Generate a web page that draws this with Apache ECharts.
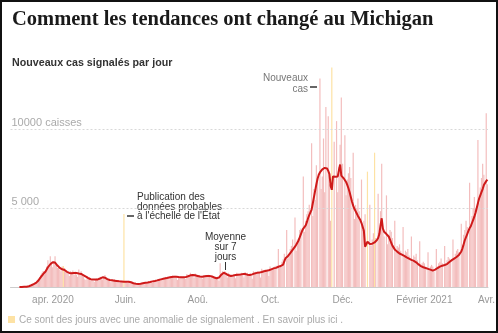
<!DOCTYPE html>
<html><head><meta charset="utf-8">
<script src="https://cdn.jsdelivr.net/npm/echarts@6/dist/echarts.min.js"></script>
<style>
html,body{margin:0;padding:0;background:#fff;}
#chart{position:absolute;left:0;top:0;width:498px;height:333px;}
#frame{position:absolute;left:0;top:0;width:498px;height:333px;box-sizing:border-box;border:2px solid #111;pointer-events:none;}
</style></head>
<body>
<div id="chart"></div>
<div id="frame"></div>
<script>
// axis range: categories start on this day; data starts on dataStart
const axisStart = '2020-03-01';
const dataStart = '2020-03-08';

// daily new cases, one value per day from 2020-03-08
const dailyCases = [
0,0,2,10,12,20,35,
50,60,110,130,200,230,290,
300,420,530,640,780,900,1010,
800,1050,1300,1700,1400,1950,1450,
1250,1650,1950,1450,1200,1350,1100,
1000,1300,1330,1200,980,900,850,
700,1000,950,1050,760,980,780,
650,1100,860,1000,700,640,490,
450,700,560,620,400,440,380,
320,500,540,470,600,650,640,
480,700,760,500,450,420,390,
300,480,430,500,380,350,320,
280,400,380,360,4620,340,300,
250,380,330,310,260,220,180,
120,230,180,210,230,260,270,
180,290,300,320,350,340,360,
280,410,390,450,470,480,500,
380,560,590,540,640,600,620,
480,700,650,720,680,710,620,
450,700,610,680,640,660,590,
500,820,720,780,900,750,800,
580,850,720,760,740,700,650,
520,730,700,760,720,780,700,
550,720,640,660,580,550,500,
400,1500,900,1000,860,1000,900,
600,900,800,750,720,700,690,
560,900,820,850,800,900,850,
600,950,700,900,820,850,760,
520,1000,900,960,880,1000,980,
600,1150,950,1050,1100,1030,1000,
700,1300,1100,1200,1250,1300,1350,
0,2400,1200,1400,1600,1750,2100,
0,3600,1800,2000,2400,2600,3000,
0,4400,2300,3000,3100,3600,3700,
0,7000,3500,4200,4600,4800,5200,
0,9100,4500,6200,5500,7700,6800,
0,13200,6200,7000,9400,6000,11400,
0,10800,6500,4200,13900,0,9200,
0,10500,6000,7600,9000,12000,7800,
0,9600,5800,6800,7200,7600,6900,
0,8500,4300,5200,5000,5600,4800,
0,6800,3600,4200,4600,0,7300,
0,5200,2600,3000,3400,8500,3100,
0,5900,3300,4800,7800,3600,3200,
0,5800,2700,3300,3600,3500,3100,
0,4200,2200,2600,2500,2700,2300,
0,3800,1900,2300,2200,2400,2000,
0,3200,1600,2000,1900,2100,1700,
0,2900,1300,1500,1600,1500,1200,
0,2200,1100,1300,1400,1300,1000,
0,2400,1300,1500,1600,1800,1500,
0,2600,1500,1700,1900,1800,1700,
0,3000,1800,2100,2300,2400,2200,
0,4000,2700,3300,3600,4200,3800,
0,6600,3700,4500,5000,5700,5000,
0,9300,5300,6300,6900,7800,7100,
0,11000,6500
];

// 7-day average, one value per day from 2020-03-08
const avg7 = [
0,0,0,5,10,15,20,
30,50,80,110,150,180,220,
260,330,410,500,620,720,820,
900,980,1080,1250,1360,1440,1510,
1570,1600,1550,1460,1360,1280,1210,
1150,1120,1100,1080,1020,960,920,
890,870,865,870,880,885,880,
870,850,840,830,790,740,690,
650,600,560,520,490,480,475,
470,470,475,480,500,540,580,
610,620,590,540,500,460,440,
430,420,410,400,390,380,370,
360,355,350,345,340,340,340,
338,330,320,300,270,240,215,
200,190,185,195,210,225,240,
255,265,275,290,305,320,340,
355,370,385,400,420,440,460,
480,500,520,540,555,565,580,
600,620,635,645,650,655,650,
640,630,620,615,610,610,612,
625,650,680,710,740,760,765,
755,740,720,700,680,660,650,
655,665,680,695,700,705,700,
690,670,640,600,570,555,550,
600,680,780,860,900,880,830,
780,740,710,700,710,730,750,
765,775,780,785,790,800,815,
825,820,800,780,765,760,770,
800,830,860,880,895,900,910,
930,950,980,1000,1020,1030,1040,
1060,1090,1120,1150,1180,1190,1210,
1240,1280,1320,1330,1350,1420,1620,
1820,1900,1950,2000,2150,2250,2350,
2450,2550,2680,2800,2950,3150,3350,
3550,3700,3800,3900,4100,4350,4550,
4650,4900,5300,5700,6100,6500,6850,
7100,7250,7350,7450,7500,7540,7570,
7500,7350,7150,6400,6150,7000,7050,
6980,6940,7000,7400,7750,7050,6950,
6880,6800,6650,6460,6250,6000,5700,
5400,5150,4950,4800,4650,4500,4380,
4240,4050,3800,3550,2550,2700,2870,
2800,2720,2700,2740,2770,2820,2900,
2970,3100,3350,3900,4350,3700,3500,
3420,3350,3250,3180,3000,2800,2620,
2500,2380,2300,2240,2180,2120,2080,
2050,2010,1970,1930,1880,1840,1800,
1760,1720,1690,1650,1600,1560,1500,
1430,1370,1320,1280,1250,1220,1200,
1170,1150,1120,1100,1070,1040,1050,
1100,1150,1200,1250,1290,1320,1350,
1370,1390,1420,1450,1510,1580,1640,
1700,1760,1800,1850,1900,1960,2030,
2100,2250,2450,2700,2970,3150,3350,
3550,3720,3850,4050,4250,4450,4700,
5000,5300,5600,5800,6000,6200,6450,
6550,6700,6800
];

// days with a reporting anomaly (drawn in yellow)
const anomalyDays = ['2020-04-14','2020-06-04','2020-11-26','2020-12-26','2021-01-01'];

// x-axis ticks
const tickDates = ['2020-04-01','2020-06-01','2020-08-01','2020-10-01','2020-12-01','2021-02-01','2021-04-01'];
const tickLabels = ['apr. 2020','Juin.','Aoû.','Oct.','Déc.','Février 2021','Avr.'];

// y-axis gridlines
const yTickValues = [5000, 10000];
const yTickLabels = ['5 000', '10000 caisses'];

const DAY = 86400000;
const isoDay = t => new Date(t).toISOString().slice(0, 10);
const t0 = Date.parse(axisStart + 'T00:00:00Z');
const offset = Math.round((Date.parse(dataStart + 'T00:00:00Z') - t0) / DAY);
const nCats = offset + dailyCases.length;
const categories = [];
for (let i = 0; i < nCats; i++) categories.push(isoDay(t0 + i * DAY));

const PINK = '#f3bdbd';
const YELLOW = '#fde2a4';

const barData = categories.map((d, i) => {
  const k = i - offset;
  if (k < 0) return null;
  const v = dailyCases[k];
  if (anomalyDays.includes(d)) return { value: v, itemStyle: { color: YELLOW } };
  return v;
});
const lineData = categories.map((d, i) => {
  const k = i - offset;
  return k < 0 ? null : avg7[k];
});

const isTick = (idx, val) => tickDates.includes(val);
const SANS = '"Liberation Sans", Arial, sans-serif';
const fmtTick = v => {
  const lab = tickLabels[tickDates.indexOf(v)] || '';
  return lab.length > 10 ? '{w|' + lab + '}' : lab;
};

const chart = echarts.init(document.getElementById('chart'), null, { renderer: 'canvas' });
chart.setOption({
  animation: false,
  backgroundColor: '#fff',
  title: [
    { text: 'Comment les tendances ont changé au Michigan', left: 7, top: 4,
      textStyle: { fontFamily: '"Liberation Serif", "DejaVu Serif", serif', fontWeight: 'bold', fontSize: 20.5, color: '#1a1a1a' } },
    { text: 'Nouveaux cas signalés par jour', left: 7, top: 53,
      textStyle: { fontFamily: SANS, fontWeight: 'bold', fontSize: 10.7, color: '#333' } }
  ],
  grid: { left: 10.5, right: 8.5, top: 50, bottom: 46, containLabel: false },
  xAxis: {
    type: 'category', data: categories, boundaryGap: true,
    axisLine: { lineStyle: { color: '#ccc', width: 1 } },
    axisTick: { alignWithLabel: true, interval: isTick, length: 5, lineStyle: { color: '#bbb' } },
    axisLabel: { interval: isTick, formatter: fmtTick,
      color: '#999', fontSize: 10, fontFamily: SANS, margin: 8, padding: [0, 0, 0, 10],
      rich: { w: { color: '#999', fontSize: 10, fontFamily: SANS, padding: [0, 0, 0, 16] } } },
    splitLine: { show: false }
  },
  yAxis: { type: 'value', min: 0, max: 15000, show: false },
  series: [
    {
      type: 'bar', data: barData, barCategoryGap: '0%', itemStyle: { color: PINK }, z: 2, silent: true,
      markLine: {
        silent: true, symbol: 'none', animation: false,
        lineStyle: { color: '#d8d8d8', type: [2, 2], width: 1 },
        label: { position: 'insideStartTop', formatter: p => yTickLabels[yTickValues.indexOf(p.value)],
          color: '#aaa', fontSize: 11, fontFamily: SANS, distance: [1, 1] },
        data: yTickValues.map(v => ({ yAxis: v }))
      }
    },
    {
      type: 'line', data: lineData, symbol: 'none', z: 5, silent: true,
      lineStyle: { color: '#cf1a1a', width: 2 }, connectNulls: false
    }
  ],
  graphic: [
    { type: 'text', x: 308, y: 78.5, style: { text: 'Nouveaux', align: 'right', verticalAlign: 'middle', font: '10px ' + SANS, fill: '#777' } },
    { type: 'text', x: 308, y: 89, style: { text: 'cas', align: 'right', verticalAlign: 'middle', font: '10px ' + SANS, fill: '#777' } },
    { type: 'line', shape: { x1: 310, y1: 87, x2: 317, y2: 87 }, style: { stroke: '#333', lineWidth: 1.5 } },
    { type: 'text', x: 137, y: 197.5, style: { text: 'Publication des', align: 'left', verticalAlign: 'middle', font: '10px ' + SANS, fill: '#333' } },
    { type: 'text', x: 137, y: 207, style: { text: 'données probables', align: 'left', verticalAlign: 'middle', font: '10px ' + SANS, fill: '#333' } },
    { type: 'text', x: 137, y: 216.5, style: { text: "à l'échelle de l'État", align: 'left', verticalAlign: 'middle', font: '10px ' + SANS, fill: '#333' } },
    { type: 'line', shape: { x1: 127, y1: 216, x2: 134, y2: 216 }, style: { stroke: '#333', lineWidth: 1.5 } },
    { type: 'text', x: 225.5, y: 237.5, style: { text: 'Moyenne', align: 'center', verticalAlign: 'middle', font: '10px ' + SANS, fill: '#333' } },
    { type: 'text', x: 225.5, y: 247.5, style: { text: 'sur 7', align: 'center', verticalAlign: 'middle', font: '10px ' + SANS, fill: '#333' } },
    { type: 'text', x: 225.5, y: 257, style: { text: 'jours', align: 'center', verticalAlign: 'middle', font: '10px ' + SANS, fill: '#333' } },
    { type: 'line', shape: { x1: 225.5, y1: 262, x2: 225.5, y2: 270 }, style: { stroke: '#333', lineWidth: 1 } },
    { type: 'rect', shape: { x: 8, y: 316, width: 7, height: 7 }, style: { fill: YELLOW } },
    { type: 'text', x: 19, y: 320, style: { text: 'Ce sont des jours avec une anomalie de signalement . En savoir plus ici .', align: 'left', verticalAlign: 'middle', font: '10px ' + SANS, fill: '#aaa' } }
  ]
});
</script>
</body></html>
